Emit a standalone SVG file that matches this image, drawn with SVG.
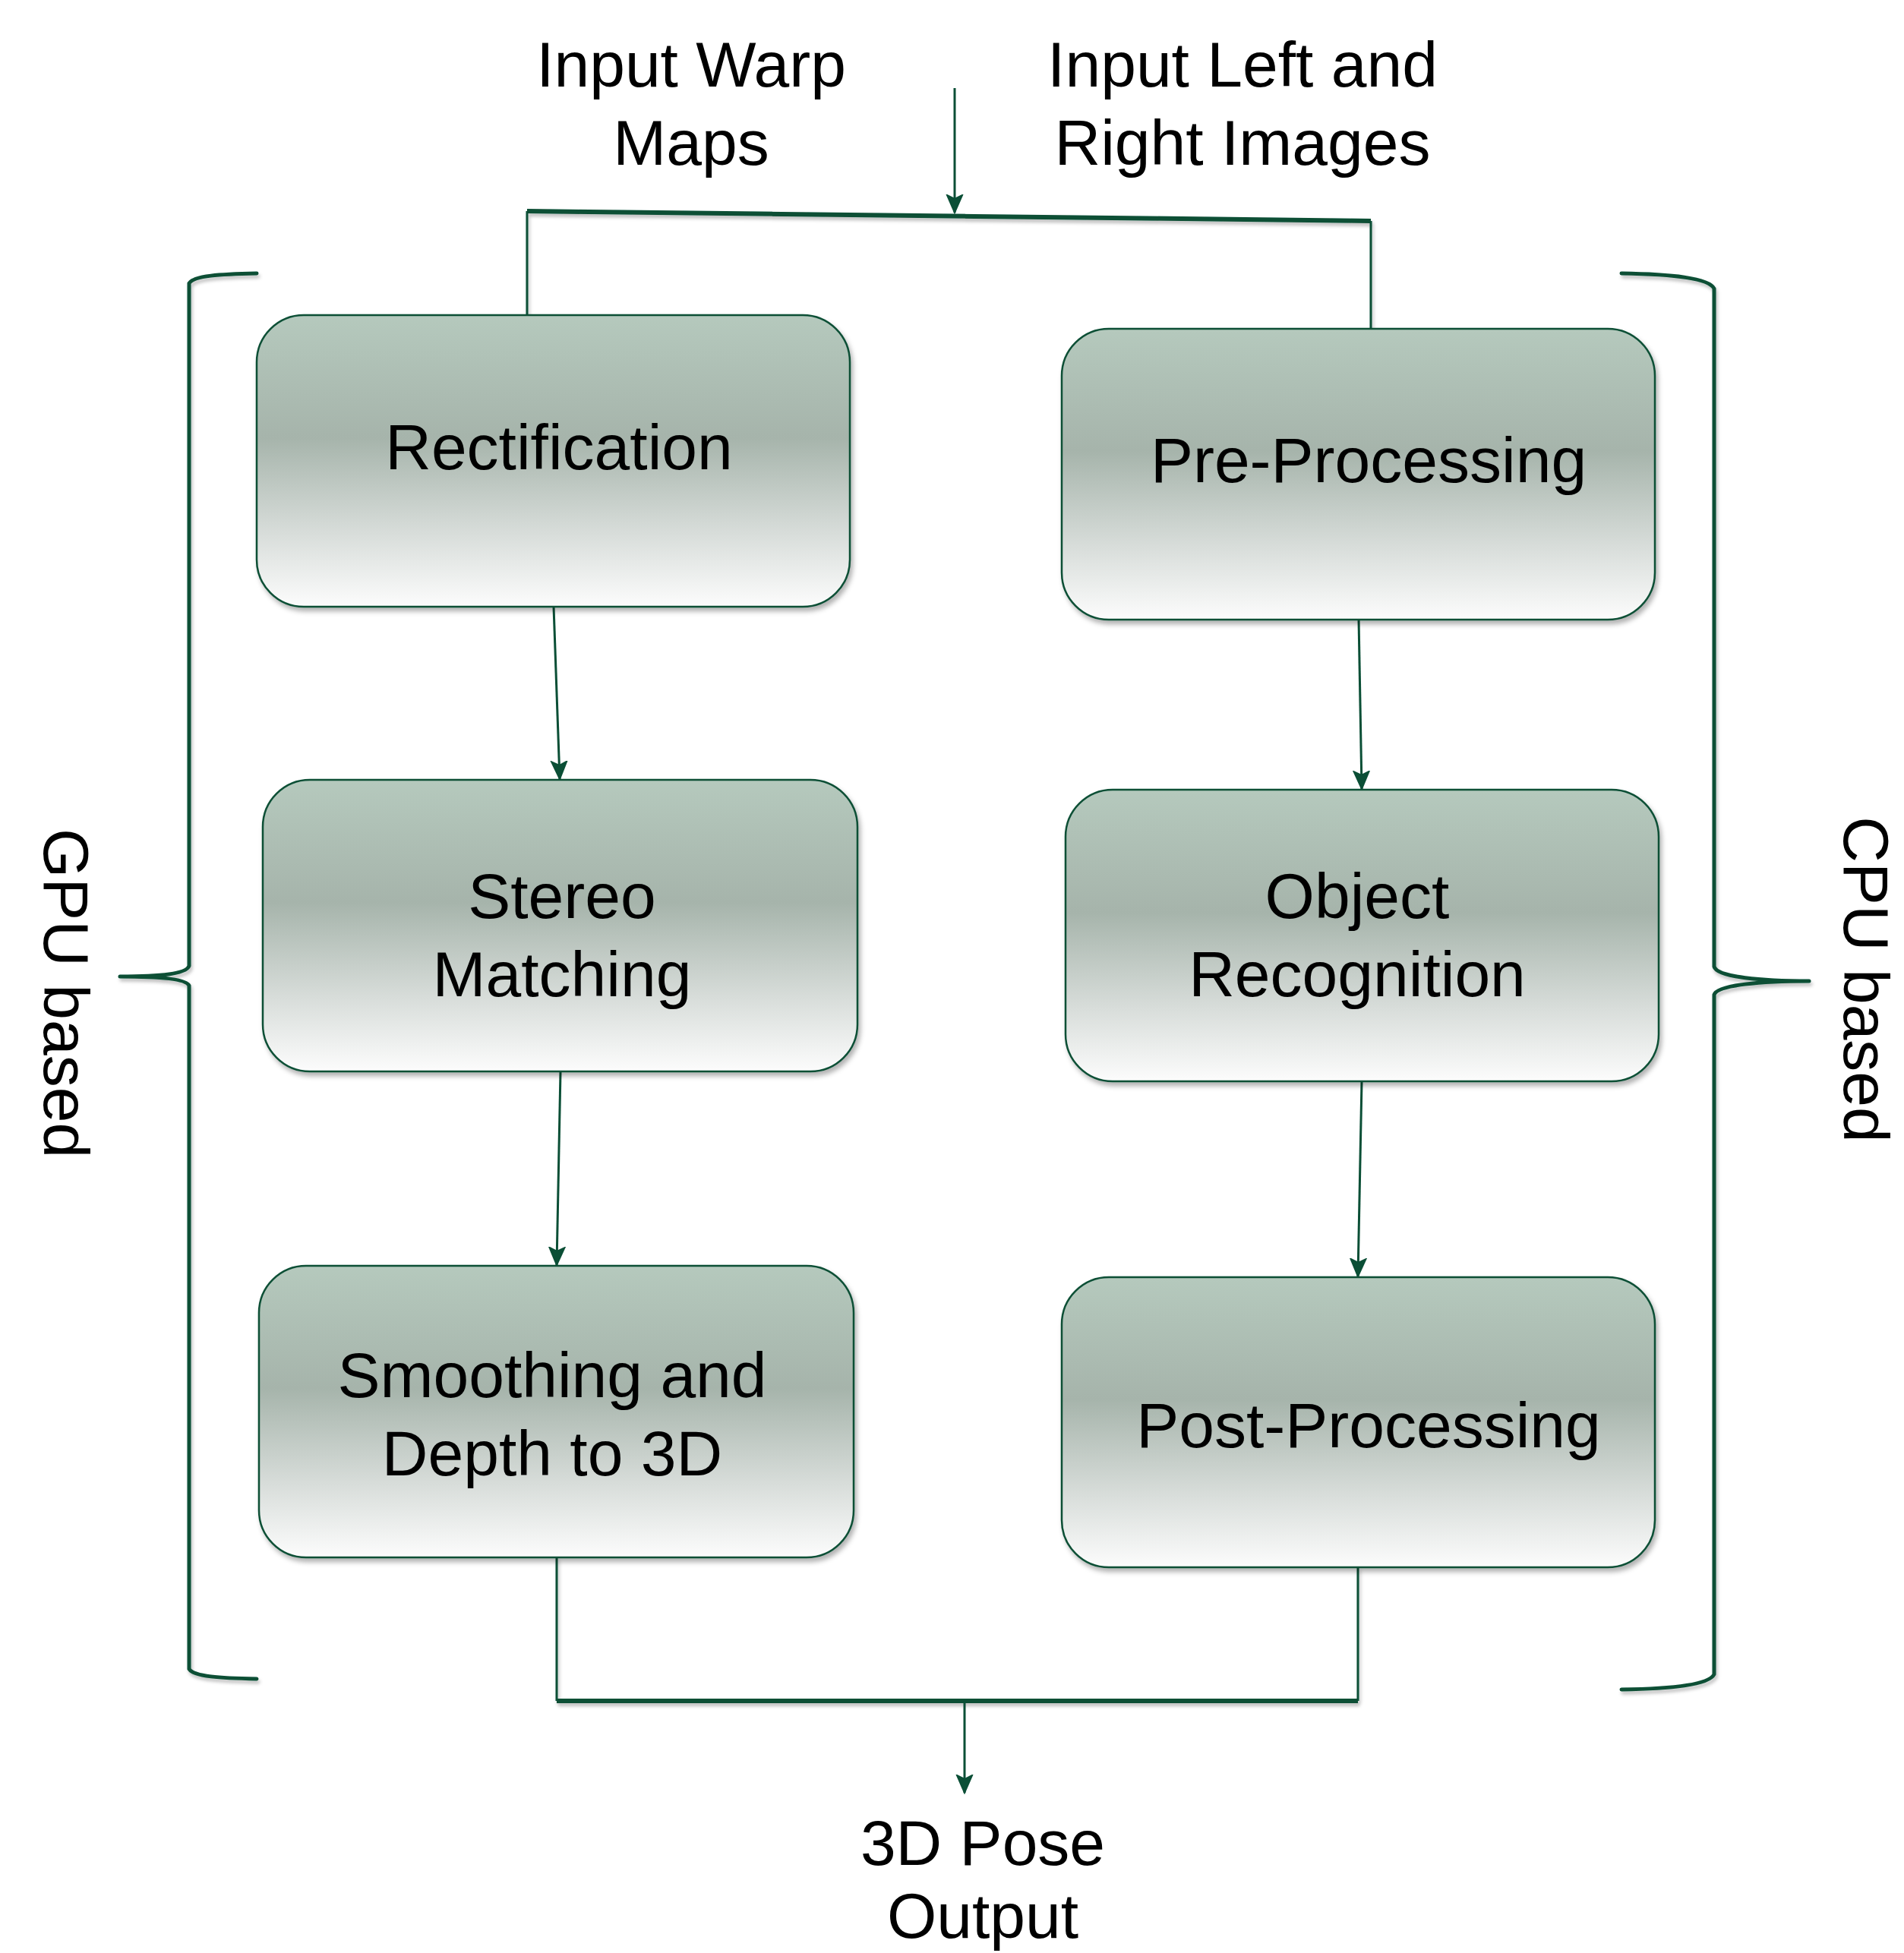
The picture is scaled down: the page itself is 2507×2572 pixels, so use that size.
<svg xmlns="http://www.w3.org/2000/svg" width="2507" height="2572" viewBox="0 0 2507 2572">
  <defs>
    <linearGradient id="boxFill" x1="0" y1="0" x2="0" y2="1">
      <stop offset="0" stop-color="#b5c9bd"/>
      <stop offset="0.42" stop-color="#a6b4ab"/>
      <stop offset="0.75" stop-color="#d8ddda"/>
      <stop offset="1" stop-color="#fcfcfc"/>
    </linearGradient>
    <filter id="shadow" x="-10%" y="-10%" width="120%" height="130%">
      <feDropShadow dx="3" dy="5" stdDeviation="3" flood-color="#000" flood-opacity="0.3"/>
    </filter>
    <filter id="lineShadow" x="-5%" y="-5%" width="110%" height="110%">
      <feDropShadow dx="2" dy="4" stdDeviation="2" flood-color="#000" flood-opacity="0.25"/>
    </filter>
    <marker id="arrow" viewBox="0 0 26 24" refX="24" refY="12" markerWidth="26" markerHeight="24" markerUnits="userSpaceOnUse" orient="auto">
      <path d="M1,2 L24,12 L1,22 L6,12 Z" fill="#0b4f36" stroke="#0b4f36" stroke-width="2" stroke-linejoin="miter"/>
    </marker>
  </defs>
  <style>
    .box { fill: url(#boxFill); stroke: #0b4f36; stroke-width: 2.5; filter: url(#shadow); }
    .lbl { font-family: "Liberation Sans", Arial, sans-serif; font-size: 84px; fill: #000; text-anchor: middle; }
    .wire { fill: none; stroke: #0b4f36; stroke-width: 3; }
    .bus { fill: none; stroke: #0b4f36; stroke-width: 6; }
    .brace { fill: none; stroke: #0b4f36; stroke-width: 5; stroke-linecap: round; stroke-linejoin: round; filter: url(#lineShadow); }
  </style>

  <rect width="2507" height="2572" fill="#ffffff"/>

  <!-- Input / output labels -->
  <g id="label-warp-maps">
    <text class="lbl" x="910" y="114">Input Warp</text>
    <text class="lbl" x="910" y="217">Maps</text>
  </g>
  <g id="label-images">
    <text class="lbl" x="1636" y="114">Input Left and</text>
    <text class="lbl" x="1636" y="217">Right Images</text>
  </g>
  <g id="label-output">
    <text class="lbl" x="1294" y="2456">3D Pose</text>
    <text class="lbl" x="1294" y="2552">Output</text>
  </g>

  <!-- Connectors -->
  <g id="connectors">
    <g filter="url(#lineShadow)">
      <path class="bus" d="M694,278 L1805,291"/>
      <path class="wire" d="M694,278 L694,415"/>
      <path class="wire" d="M1805,291 L1805,433"/>
      <path class="bus" d="M733,2240 L1788,2240"/>
      <path class="wire" d="M733,2051 L733,2240"/>
      <path class="wire" d="M1788,2064 L1788,2240"/>
    </g>
    <path class="wire" d="M1257,116 L1257,280" marker-end="url(#arrow)"/>
    <path class="wire" d="M729,799 L737,1026" marker-end="url(#arrow)"/>
    <path class="wire" d="M738,1411 L733,1666" marker-end="url(#arrow)"/>
    <path class="wire" d="M1789,815 L1793,1039" marker-end="url(#arrow)"/>
    <path class="wire" d="M1793,1424 L1788,1681" marker-end="url(#arrow)"/>
    <path class="wire" d="M1270,2240 L1270,2361" marker-end="url(#arrow)"/>
  </g>

  <!-- GPU stages -->
  <g id="node-rectification">
    <rect class="box" x="338" y="415" width="781" height="384" rx="62" ry="62"/>
    <text class="lbl" x="736" y="618">Rectification</text>
  </g>
  <g id="node-stereo-matching">
    <rect class="box" x="346" y="1027" width="783" height="384" rx="62" ry="62"/>
    <text class="lbl" x="740" y="1209">Stereo</text>
    <text class="lbl" x="740" y="1312">Matching</text>
  </g>
  <g id="node-smoothing">
    <rect class="box" x="341" y="1667" width="783" height="384" rx="62" ry="62"/>
    <text class="lbl" x="727" y="1840">Smoothing and</text>
    <text class="lbl" x="727" y="1943">Depth to 3D</text>
  </g>

  <!-- CPU stages -->
  <g id="node-pre-processing">
    <rect class="box" x="1398" y="433" width="781" height="383" rx="62" ry="62"/>
    <text class="lbl" x="1802" y="635">Pre-Processing</text>
  </g>
  <g id="node-object-recognition">
    <rect class="box" x="1403" y="1040" width="781" height="384" rx="62" ry="62"/>
    <text class="lbl" x="1787" y="1209">Object</text>
    <text class="lbl" x="1787" y="1312">Recognition</text>
  </g>
  <g id="node-post-processing">
    <rect class="box" x="1398" y="1682" width="781" height="382" rx="62" ry="62"/>
    <text class="lbl" x="1802" y="1906">Post-Processing</text>
  </g>

  <!-- Group braces -->
  <g id="brace-gpu">
    <path class="brace" d="M338,360 C290,361 255,363 249,373 L249,1272 C245,1284 200,1286 158,1286 C200,1286 245,1288 249,1298 L249,2198 C255,2208 290,2210 338,2211"/>
    <text class="lbl" transform="translate(58,1308) rotate(90)">GPU based</text>
  </g>
  <g id="brace-cpu">
    <path class="brace" d="M2135,360 C2200,361 2250,366 2257,380 L2257,1273 C2261,1287 2320,1292 2382,1292 C2320,1292 2261,1297 2257,1310 L2257,2205 C2250,2219 2200,2224 2135,2225"/>
    <text class="lbl" transform="translate(2428,1290) rotate(90)">CPU based</text>
  </g>
</svg>
